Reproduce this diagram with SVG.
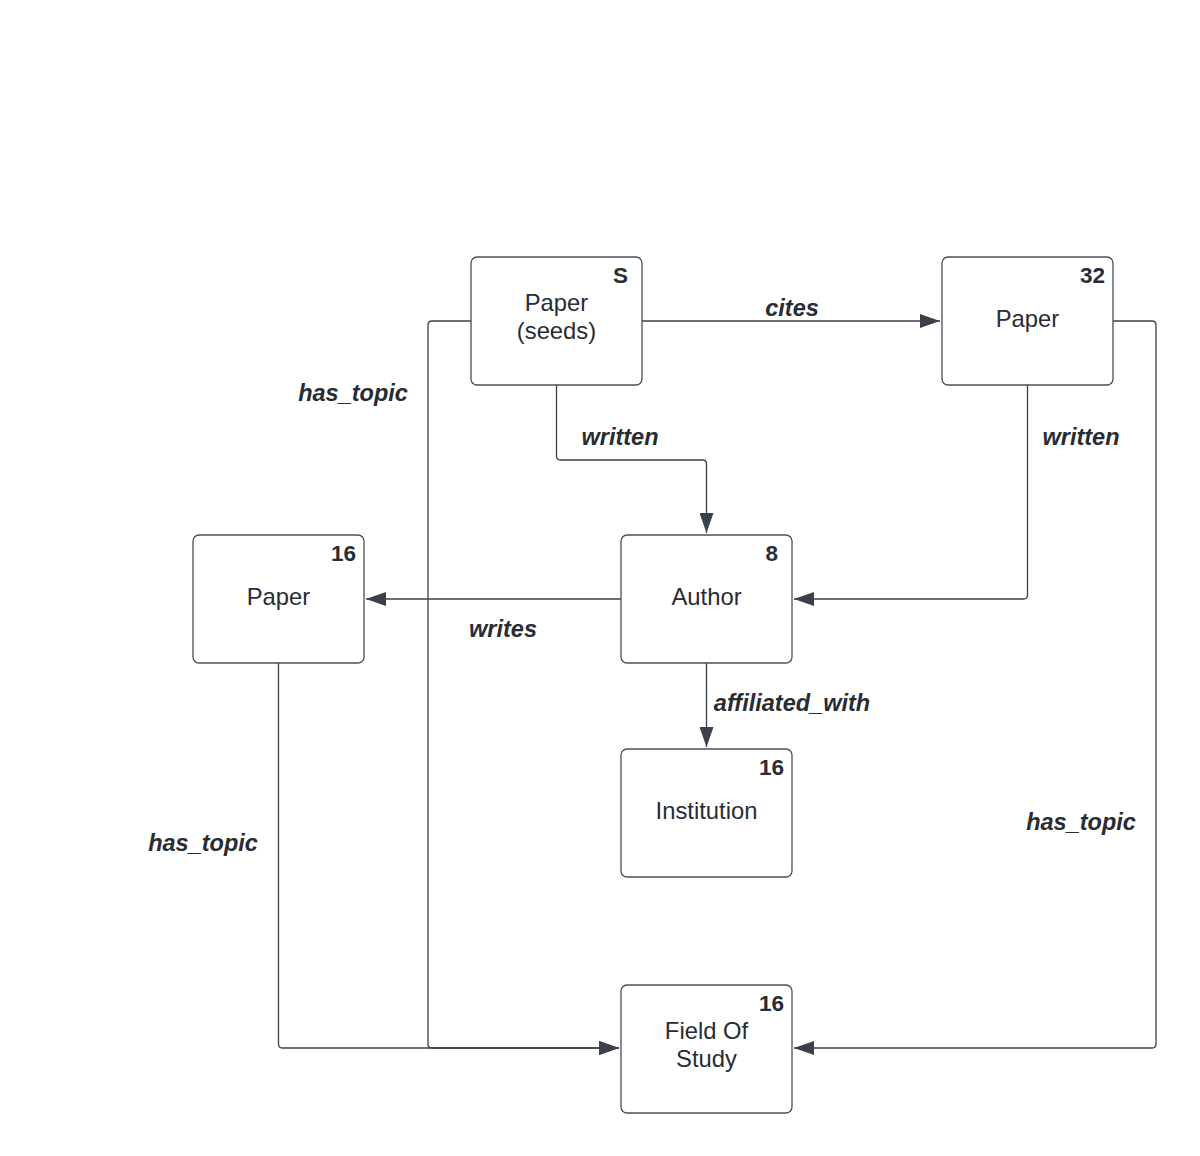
<svg xmlns="http://www.w3.org/2000/svg" width="1200" height="1156" viewBox="0 0 1200 1156">
<style>
.box{fill:#fff;stroke:#4a505a;stroke-width:1.3}
.t{font-family:"Liberation Sans",Arial,sans-serif;font-size:23.8px;fill:#282c33;text-anchor:middle}
.n{font-family:"Liberation Sans",Arial,sans-serif;font-size:22.5px;font-weight:bold;fill:#282c33;text-anchor:end}
.l{font-family:"Liberation Sans",Arial,sans-serif;font-size:23.5px;font-weight:bold;font-style:italic;fill:#282c33;text-anchor:middle}
.c{fill:none;stroke:#3a414a;stroke-width:1.3}
</style>
<defs>
<marker id="ah" viewBox="0 0 20 14" refX="20" refY="7" markerWidth="20" markerHeight="14" markerUnits="userSpaceOnUse" orient="auto">
<path d="M0,0 L20,7 L0,14 Z" fill="#3a414a"/>
</marker>
</defs>
<rect width="1200" height="1156" fill="#fff"/>
<g id="connectors">
<path class="c" d="M642,321 H940" marker-end="url(#ah)"/>
<path class="c" d="M556.5,385 V456 Q556.5,460 560.5,460 H702.5 Q706.5,460 706.5,464 V533" marker-end="url(#ah)"/>
<path class="c" d="M1027.5,385 V595 Q1027.5,599 1023.5,599 H794" marker-end="url(#ah)"/>
<path class="c" d="M621,599 H366" marker-end="url(#ah)"/>
<path class="c" d="M706.5,663 V747" marker-end="url(#ah)"/>
<path class="c" d="M471,321 H432 Q428,321 428,325 V1044 Q428,1048 432,1048 H619" marker-end="url(#ah)"/>
<path class="c" d="M278.5,663 V1044 Q278.5,1048 282.5,1048 H619" marker-end="url(#ah)"/>
<path class="c" d="M1113,321 H1152 Q1156,321 1156,325 V1044 Q1156,1048 1152,1048 H794" marker-end="url(#ah)"/>
<text class="l" x="792" y="316">cites</text>
<text class="l" x="620" y="445">written</text>
<text class="l" x="1081" y="445">written</text>
<text class="l" x="503" y="637">writes</text>
<text class="l" x="792" y="711">affiliated_with</text>
<text class="l" x="353" y="401">has_topic</text>
<text class="l" x="203" y="851">has_topic</text>
<text class="l" x="1081" y="830">has_topic</text>
</g>
<g id="paper-seeds">
<rect class="box" x="471" y="257" width="171" height="128" rx="6"/>
<text class="n" x="628" y="283">S</text>
<text class="t" x="556.5" y="311">Paper</text>
<text class="t" x="556.5" y="339">(seeds)</text>
</g>
<g id="paper-32">
<rect class="box" x="942" y="257" width="171" height="128" rx="6"/>
<text class="n" x="1105" y="283">32</text>
<text class="t" x="1027.5" y="327">Paper</text>
</g>
<g id="paper-16">
<rect class="box" x="193" y="535" width="171" height="128" rx="6"/>
<text class="n" x="356" y="561">16</text>
<text class="t" x="278.5" y="605">Paper</text>
</g>
<g id="author">
<rect class="box" x="621" y="535" width="171" height="128" rx="6"/>
<text class="n" x="778" y="561">8</text>
<text class="t" x="706.5" y="605">Author</text>
</g>
<g id="institution">
<rect class="box" x="621" y="749" width="171" height="128" rx="6"/>
<text class="n" x="784" y="775">16</text>
<text class="t" x="706.5" y="819">Institution</text>
</g>
<g id="field-of-study">
<rect class="box" x="621" y="985" width="171" height="128" rx="6"/>
<text class="n" x="784" y="1011">16</text>
<text class="t" x="706.5" y="1039">Field Of</text>
<text class="t" x="706.5" y="1067">Study</text>
</g>
</svg>
